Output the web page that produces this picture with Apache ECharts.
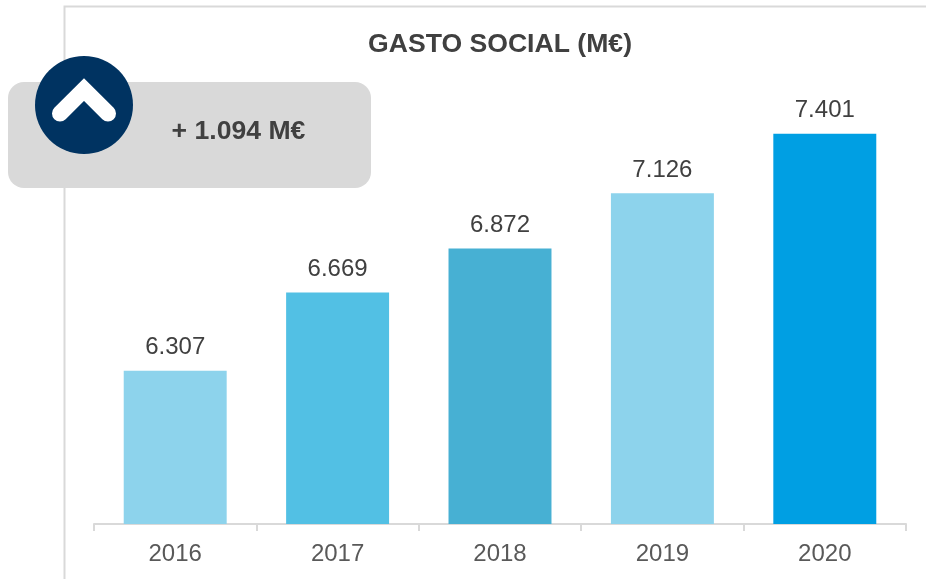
<!DOCTYPE html>
<html>
<head>
<meta charset="utf-8">
<script src="https://cdn.jsdelivr.net/npm/echarts@6/dist/echarts.min.js"></script>
<style>
html, body { margin: 0; padding: 0; background: #fff; }
#chart { width: 926px; height: 579px; }
</style>
</head>
<body>
<div id="chart"></div>
<script>
var years = ['2016', '2017', '2018', '2019', '2020'];
var gasto = [6307, 6669, 6872, 7126, 7401];
var barColors = ['#8dd3ec', '#52c0e4', '#47b0d3', '#8dd3ec', '#009fe3'];
var titleText = 'GASTO SOCIAL (M€)';
var badgeText = '+ 1.094 M€';

var font = '"Liberation Sans", Arial, sans-serif';
var myChart = echarts.init(document.getElementById('chart'));

function formatMiles(v) {
    return String(v).replace(/\B(?=(\d{3})+$)/g, '.');
}

var option = {
    animation: false,
    backgroundColor: '#fff',
    textStyle: { fontFamily: font },
    title: {
        text: titleText,
        left: 500,
        top: 26,
        textAlign: 'center',
        textStyle: { fontFamily: font, fontSize: 26.6, fontWeight: 'bold', color: '#404040' }
    },
    grid: { left: 94, right: 20, top: 4, height: 520 },
    xAxis: {
        type: 'category',
        data: years,
        axisLine: { lineStyle: { color: '#d9d9d9', width: 2 } },
        axisTick: { show: true, alignWithLabel: false, length: 7, lineStyle: { color: '#d9d9d9', width: 2 } },
        axisLabel: { fontFamily: font, fontSize: 24, color: '#595959', margin: 18 }
    },
    yAxis: {
        type: 'value',
        min: 5600,
        max: 8000,
        show: false
    },
    series: [{
        type: 'bar',
        barWidth: '63.4%',
        data: gasto.map(function (v, i) {
            return { value: v, itemStyle: { color: barColors[i] } };
        }),
        label: {
            show: true,
            position: 'top',
            distance: 11,
            fontFamily: font,
            fontSize: 24,
            color: '#404040',
            formatter: function (p) { return formatMiles(p.value); }
        }
    }],
    graphic: [
        { type: 'polyline', z: 1, shape: { points: [[64.5, 579], [64.5, 6.5], [926, 6.5]] }, style: { fill: null, stroke: '#d9d9d9', lineWidth: 2 } },
        { type: 'rect', z: 10, shape: { x: 8, y: 82, width: 363, height: 106, r: 16 }, style: { fill: '#d9d9d9' } },
        { type: 'circle', z: 11, shape: { cx: 84, cy: 105, r: 49 }, style: { fill: '#003361' } },
        { type: 'polyline', z: 12, shape: { points: [[60, 113.5], [84, 89.5], [108, 113.5]] }, style: { fill: null, stroke: '#fff', lineWidth: 16, lineCap: 'round', lineJoin: 'miter' } },
        { type: 'text', z: 12, style: { x: 238.5, y: 132, text: badgeText, align: 'center', verticalAlign: 'middle', fontFamily: font, fontSize: 26.6, fontWeight: 'bold', fill: '#404040' } }
    ]
};

myChart.setOption(option);
// the title is centred by hand on the visible text, not on the frame
myChart.setOption({ title: { left: 495 } });
window.onresize = function () {
    myChart.resize();
};
</script>
</body>
</html>
